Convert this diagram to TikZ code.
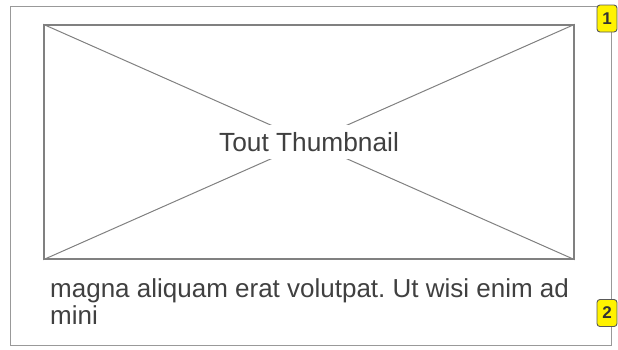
\documentclass[tikz,border=0pt]{standalone}
\usepackage{fontspec}
\setmainfont{Liberation Sans}
\frenchspacing
\begin{document}
\begin{tikzpicture}[x=1pt,y=-1pt,
  framebox/.style={draw=black!40,line width=1.4pt},
  imgbox/.style={draw=black!50,line width=1.4pt,minimum width=530pt,minimum height=234pt,inner sep=0pt},
  cross/.style={draw=black!50,line width=1pt},
  capt/.style={fill=white,text=black!75,font=\fontsize{26.3}{28}\selectfont,minimum height=34pt,minimum width=190pt,inner sep=0pt},
  body/.style={text=black!75,font=\fontsize{26}{27.5}\selectfont,align=left,inner sep=0pt,anchor=base west},
  badge/.style={draw=black!65,fill=yellow,line width=0.9pt,rounded corners=3pt,minimum width=20pt,minimum height=27pt,inner sep=0pt,text=black!80,font=\bfseries\fontsize{17}{17}\selectfont}
]
\useasboundingbox (0,0) rectangle (618,349);
\draw[framebox] (10.5,6.5) coordinate (fnw) rectangle (611.5,345.5) coordinate (fse);
\node[imgbox] (img) at (309,142) {};
\draw[cross] (img.north west) -- (img.south east);
\draw[cross] (img.north east) -- (img.south west);
\node[capt] (cap) at (309,142) {Tout Thumbnail};
\node[body] (txt) at (50,324.5) {magna aliquam erat volutpat. Ut wisi enim ad\\mini};
\node[badge] (b1) at (607,18.5) {1};
\node[badge] (b2) at (607,313) {2};
\end{tikzpicture}
\end{document}
